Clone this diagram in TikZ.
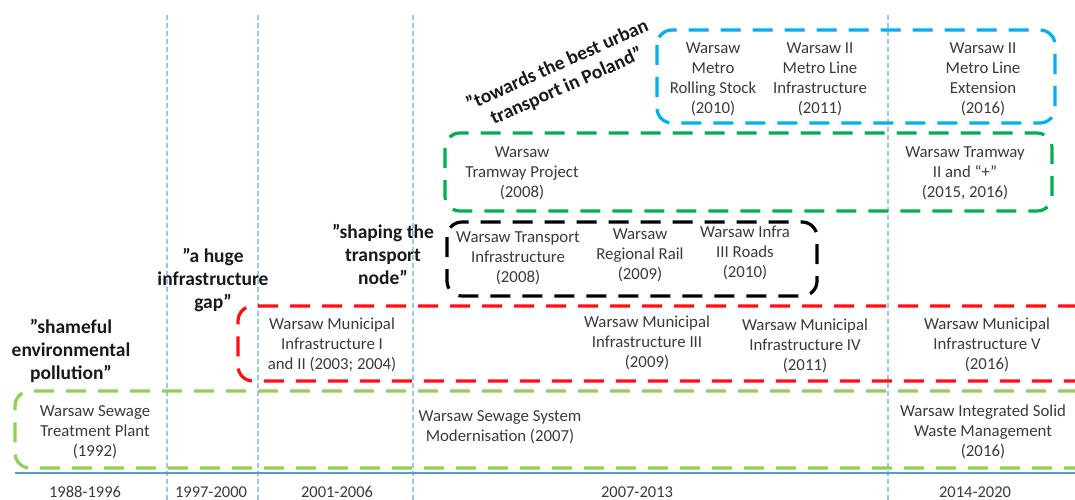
\documentclass[tikz,border=0pt]{standalone}
\usepackage{fontspec}
\setmainfont{Carlito}
\definecolor{vline}{HTML}{9DC3E6}
\definecolor{axisc}{HTML}{5B9BD5}
\definecolor{lgreen}{HTML}{92D050}
\definecolor{dgreen}{HTML}{00B050}
\definecolor{mblue}{HTML}{00B0F0}
\definecolor{mred}{HTML}{FF1010}
\definecolor{txtc}{HTML}{3A3A3A}
\tikzset{
  txt/.style={font=\fontsize{16.8}{20}\selectfont, align=center, text=txtc, inner sep=0pt},
  lbl/.style={font=\bfseries\fontsize{19.5}{23}\selectfont, align=center, text=black!90, inner sep=0pt},
  per/.style={font=\fontsize{16.5}{18}\selectfont, text=txtc, inner sep=0pt},
  grp/.style={line width=3.2pt, dash pattern=on 20pt off 12pt, rounded corners=15pt},
  vdash/.style={vline, line width=1.1pt, dash pattern=on 5pt off 3pt},
}
\begin{document}
\begin{tikzpicture}[x=1pt, y=-1pt]
\useasboundingbox (0,0) rectangle (1075,500);
\clip (0,0) rectangle (1075,500);
% period separators
\foreach \xx/\nm in {167/s1, 258/s2, 413/s3, 888/s4} {
  \coordinate (\nm top) at (\xx,15);
  \coordinate (\nm bot) at (\xx,500);
  \draw[vdash] (\nm top) -- (\nm bot);
}
% time axis
\coordinate (axL) at (15,473);
\coordinate (axR) at (1075,473);
\draw[axisc, line width=1.1pt] (axL) -- (axR);
% group frames
\draw[grp, lgreen] (1110,391) -- (15,391) -- (15,468) -- (1110,468);
\draw[grp, mred] (1110,306) -- (238,306) -- (238,381) -- (1110,381);
\draw[grp, black] (447,222) rectangle (817,296);
\draw[grp, dgreen] (445,133) rectangle (1052,211);
\draw[grp, mblue] (657,30) rectangle (1055,123);
% periods
\node[per] (p1) at (85,492) {1988-1996};
\node[per] (p2) at (211,492) {1997-2000};
\node[per] (p3) at (337,492) {2001-2006};
\node[per] (p4) at (637,492) {2007-2013};
\node[per] (p5) at (975,492) {2014-2020};
% sewage / waste
\node[txt] (t1) at (95,432) {Warsaw Sewage\\Treatment Plant\\(1992)};
\node[txt] (t2) at (500,427) {Warsaw Sewage System\\Modernisation (2007)};
\node[txt] (t3) at (983,432) {Warsaw Integrated Solid\\Waste Management\\(2016)};
% municipal
\node[txt] (m1) at (332,345) {Warsaw Municipal\\Infrastructure I\\and II (2003; 2004)};
\node[txt] (m2) at (647,343) {Warsaw Municipal\\Infrastructure III\\(2009)};
\node[txt] (m3) at (805,346) {Warsaw Municipal\\Infrastructure IV\\(2011)};
\node[txt] (m4) at (987,345) {Warsaw Municipal\\Infrastructure V\\(2016)};
% transport node
\node[txt] (b1) at (518,258) {Warsaw Transport\\Infrastructure\\(2008)};
\node[txt] (b2) at (640,255) {Warsaw\\Regional Rail\\(2009)};
\node[txt] (b3) at (745,253) {Warsaw Infra\\III Roads\\(2010)};
% tramway
\node[txt] (g1) at (522,173) {Warsaw\\Tramway Project\\(2008)};
\node[txt] (g2) at (965,173) {Warsaw Tramway\\II and “+”\\(2015, 2016)};
% metro
\node[txt] (u1) at (713,79) {Warsaw\\Metro\\Rolling Stock\\(2010)};
\node[txt] (u2) at (820,79) {Warsaw II\\Metro Line\\Infrastructure\\(2011)};
\node[txt] (u3) at (983,79) {Warsaw II\\Metro Line\\Extension\\(2016)};
% quotes
\node[lbl] (q1) at (71,351) {”shameful\\environmental\\pollution”};
\node[lbl] (q2) at (213,280) {”a huge\\infrastructure\\gap”};
\node[lbl] (q3) at (383,254) {”shaping the\\transport\\node”};
\node[lbl, rotate=24] (q4) at (562,76) {”towards the best urban\\transport in Poland”};
\end{tikzpicture}
\end{document}
